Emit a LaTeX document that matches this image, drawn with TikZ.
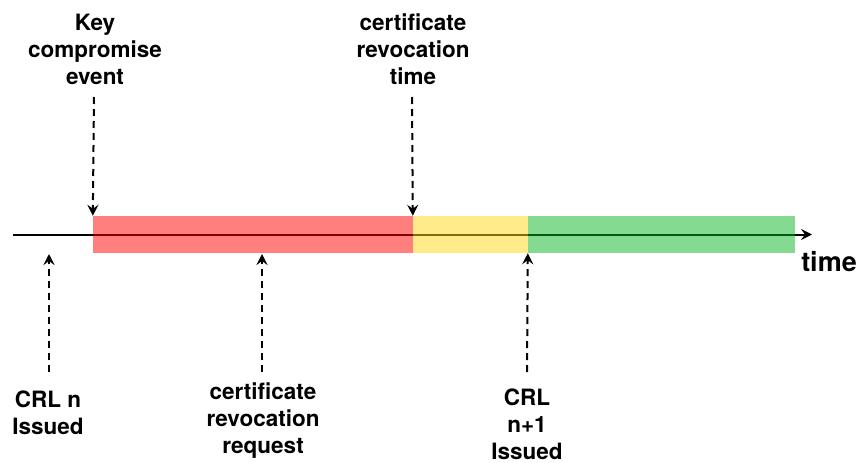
\documentclass[tikz,border=0pt]{standalone}
\usepackage{fontspec}
\setmainfont{TeX Gyre Heros}
\usetikzlibrary{arrows.meta}
\definecolor{revred}{HTML}{FF0000}
\definecolor{revyellow}{HTML}{FFD814}
\definecolor{revgreen}{HTML}{0AB522}
\begin{document}
\begin{tikzpicture}[x=1pt,y=-1pt,
  >={Stealth[length=11pt,width=11pt,inset=4pt]},
  label/.style={align=center,font=\bfseries\fontsize{22.5}{27}\selectfont,inner sep=0pt},
  band/.style={fill opacity=0.5,draw=none,inner sep=0pt,minimum height=37pt},
  marker/.style={dash pattern=on 7pt off 5pt,line width=2pt,->},
  axis/.style={line width=2pt,->}]
  \useasboundingbox (0,0) rectangle (862,463);

  % time axis
  \coordinate (t0) at (13,234.5);
  \coordinate (t1) at (812,234.5);
  \draw[axis] (t0) -- (t1);
  \node[label,font=\bfseries\fontsize{27}{30}\selectfont,anchor=center] (time) at (829,262) {time};

  % coloured intervals, translucent over the axis
  \node[band,fill=revred,minimum width=320pt] (compromised) at (253,234.5) {};
  \node[band,fill=revyellow,minimum width=115pt] (revoked) at (470.5,234.5) {};
  \node[band,fill=revgreen,minimum width=267pt] (published) at (661.5,234.5) {};

  % events above the axis
  \node[label] (kce) at (95,49) {Key\\compromise\\event};
  \node[label] (crt) at (413,49) {certificate\\revocation\\time};
  \coordinate (kceS) at (94,97);
  \coordinate (crtS) at (412,97);
  \draw[marker] (kceS) -- (compromised.north west);
  \draw[marker] (crtS) -- (revoked.north west);

  % events below the axis
  \node[label] (crln) at (48,413) {CRL n\\Issued};
  \node[label] (crr) at (263,421) {certificate\\revocation\\request};
  \node[label] (crlm) at (527,424) {CRL\\n+1\\Issued};
  \coordinate (crlnS) at (49,372);
  \coordinate (crlnT) at (49,254);
  \coordinate (crrS) at (262,372);
  \coordinate (crrT) at (262,254);
  \coordinate (crlmS) at (527,372);
  \draw[marker] (crlnS) -- (crlnT);
  \draw[marker] (crrS) -- (crrT);
  \draw[marker] (crlmS) -- (published.south west);
\end{tikzpicture}
\end{document}
